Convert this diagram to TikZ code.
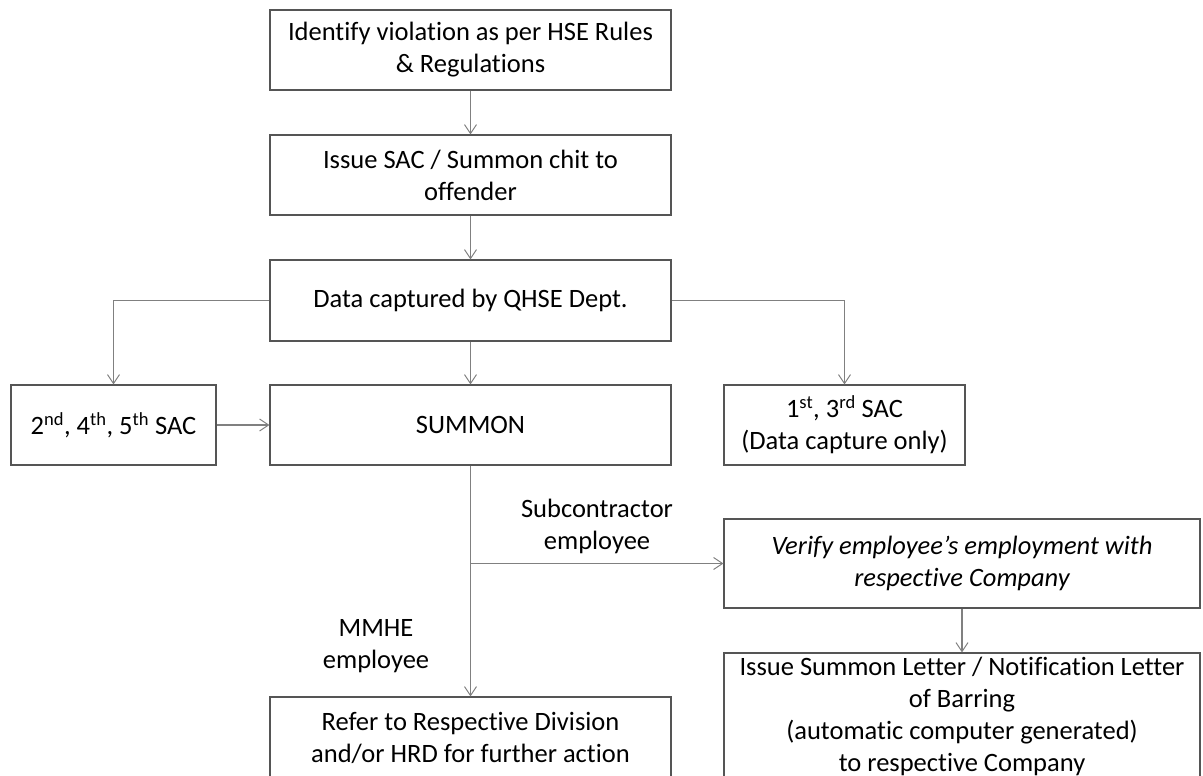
\documentclass[tikz,border=0pt]{standalone}
\usepackage{fontspec}
\setmainfont{Carlito}[Ligatures={NoCommon}]
\usetikzlibrary{arrows.meta}
\definecolor{boxline}{HTML}{555555}
\definecolor{conn}{HTML}{808080}
\tikzset{
  box/.style={draw=boxline, line width=1.1pt, align=center, inner sep=2pt,
    font=\fontsize{26.5}{32}\selectfont, text=black},
  lbl/.style={align=center, font=\fontsize{26.5}{32}\selectfont, text=black},
  conn/.style={draw=conn, line width=1.1pt, -{Straight Barb[length=9pt,width=12pt,line width=1pt]}},
  plain/.style={draw=conn, line width=1.1pt}
}
\begin{document}
\begin{tikzpicture}[x=1pt,y=-1pt]
\clip (0,0) rectangle (1203,776);
\fill[white] (0,0) rectangle (1203,776);

\node[box, minimum width=401pt, minimum height=80pt] (b1) at (470.5,50) {Identify violation as per HSE Rules\\\& Regulations};
\node[box, minimum width=401pt, minimum height=80pt] (b2) at (470.5,175) {Issue SAC / Summon chit to\\offender};
\node[box, minimum width=401pt, minimum height=81pt] (b3) at (470.5,300.5) {Data captured by QHSE Dept.};
\node[box, minimum width=205pt, minimum height=80pt] (sac2) at (113.5,425) {2\textsuperscript{nd}, 4\textsuperscript{th}, 5\textsuperscript{th} SAC};
\node[box, minimum width=401pt, minimum height=80pt] (summon) at (470.5,425) {SUMMON};
\node[box, minimum width=241pt, minimum height=80pt] (sac1) at (844.5,425) {1\textsuperscript{st}, 3\textsuperscript{rd} SAC\\(Data capture only)};
\node[box, minimum width=476pt, minimum height=89pt] (verify) at (962,563.5) {\itshape Verify employee’s employment with\\\itshape respective Company};
\node[box, minimum width=476pt, minimum height=126pt] (letter) at (962,716) {Issue Summon Letter / Notification Letter\\of Barring\\(automatic computer generated)\\to respective Company};
\node[box, minimum width=401pt, minimum height=82pt] (refer) at (470.5,738) {Refer to Respective Division\\and/or HRD for further action};

\node[lbl] (lsub) at (597,526) {Subcontractor\\employee};
\node[lbl] (lmm) at (376,646) {MMHE\\employee};

\coordinate (junc) at (470.5,563.5);

\draw[conn] (b1.south) -- (b2.north);
\draw[conn] (b2.south) -- (b3.north);
\draw[conn] (b3.west) -| (sac2.north);
\draw[conn] (b3.south) -- (summon.north);
\draw[conn] (b3.east) -| (sac1.north);
\draw[conn] (sac2.east) -- (summon.west);
\draw[conn] (summon.south) -- (refer.north);
\draw[conn] (junc) -- (verify.west);
\draw[conn] (verify.south) -- (letter.north);
\end{tikzpicture}
\end{document}
